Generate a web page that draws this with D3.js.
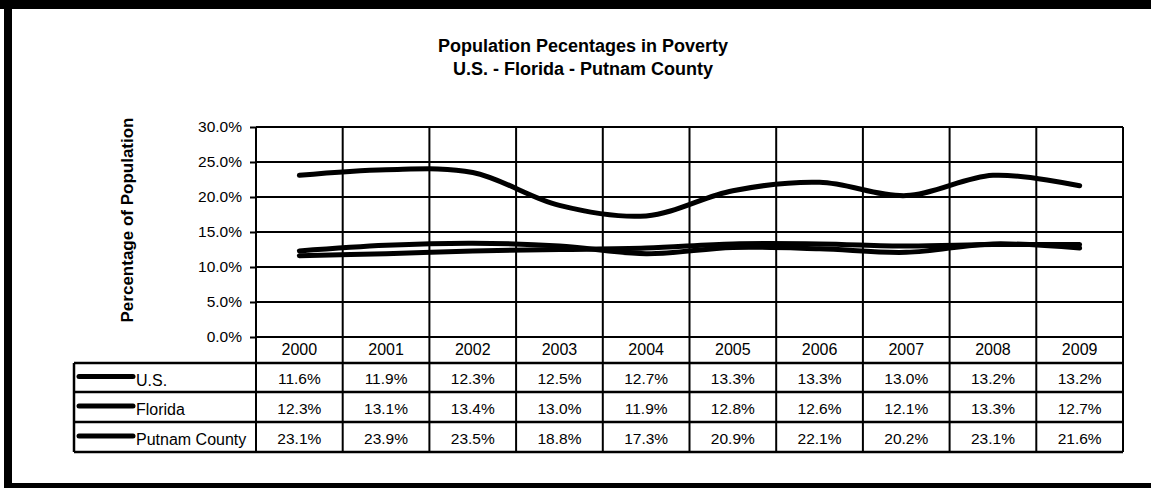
<!DOCTYPE html>
<html><head><meta charset="utf-8">
<script src="https://cdn.jsdelivr.net/npm/d3@7/dist/d3.min.js"></script>
<style>body{margin:0;background:#fff}svg{display:block;font-family:"Liberation Sans",Arial,sans-serif}</style>
</head><body><svg id="c" width="1151" height="488"></svg>
<script>
const years = ["2000","2001","2002","2003","2004","2005","2006","2007","2008","2009"];
const seriesNames = ["U.S.","Florida","Putnam County"];
const usValues = [11.6,11.9,12.3,12.5,12.7,13.3,13.3,13.0,13.2,13.2];
const floridaValues = [12.3,13.1,13.4,13.0,11.9,12.8,12.6,12.1,13.3,12.7];
const putnamValues = [23.1,23.9,23.5,18.8,17.3,20.9,22.1,20.2,23.1,21.6];
const yTicks = [0,5,10,15,20,25,30];
const titleLines = ["Population Pecentages in Poverty","U.S. - Florida - Putnam County"];
const yLabel = "Percentage of Population";

const series = [usValues, floridaValues, putnamValues];
const svg = d3.select("#c");

// outer frame
svg.append("rect").attr("x",0).attr("y",0).attr("width",1151).attr("height",9).attr("fill","#000");
svg.append("rect").attr("x",4).attr("y",0).attr("width",8).attr("height",488).attr("fill","#000");
svg.append("rect").attr("x",4).attr("y",483).attr("width",1147).attr("height",5).attr("fill","#000");

// title
svg.append("text").attr("x",583).attr("y",52).attr("text-anchor","middle")
  .attr("font-size",18).attr("font-weight","bold").text(titleLines[0]);
svg.append("text").attr("x",583).attr("y",75).attr("text-anchor","middle")
  .attr("font-size",18).attr("font-weight","bold").text(titleLines[1]);

const x0 = 256, x1 = 1123, yTop = 127, yBot = 337;
const xBand = d3.scaleBand().domain(years).range([x0,x1]);
const y = d3.scaleLinear().domain([0,30]).range([yBot,yTop]);

// y label
svg.append("text").attr("transform",`translate(133,220) rotate(-90)`).attr("text-anchor","middle")
  .attr("font-size",17).attr("font-weight","bold").text(yLabel);

// gridlines horizontal
svg.append("g").selectAll("line").data(yTicks).join("line")
  .attr("x1",x0).attr("x2",x1).attr("y1",d=>y(d)).attr("y2",d=>y(d))
  .attr("stroke","#000").attr("stroke-width",2);

// y axis with ticks
const yAxis = d3.axisLeft(y).tickValues(yTicks).tickSize(6).tickPadding(8)
  .tickFormat(d=>d.toFixed(1)+"%");
const ga = svg.append("g").attr("transform",`translate(${x0},0)`).call(yAxis);
ga.select(".domain").remove();
ga.selectAll(".tick line").attr("stroke","#000").attr("stroke-width",2);
ga.selectAll(".tick text").attr("font-size",15.5).attr("fill","#000").attr("font-family","Liberation Sans, Arial, sans-serif");

// table geometry
const rowEdges = [337,363,392,422,452];
const legX0 = 74;

// vertical lines (plot + table)
const vEdges = years.map(d=>xBand(d)).concat([x1]);
svg.append("g").selectAll("line").data(vEdges).join("line")
  .attr("x1",d=>d).attr("x2",d=>d).attr("y1",yTop).attr("y2",rowEdges[4])
  .attr("stroke","#000").attr("stroke-width",2);

// horizontal table lines
svg.append("g").selectAll("line").data(rowEdges.slice(1)).join("line")
  .attr("x1",legX0).attr("x2",x1).attr("y1",d=>d).attr("y2",d=>d)
  .attr("stroke","#000").attr("stroke-width",2.5);
svg.append("line").attr("x1",legX0).attr("x2",legX0).attr("y1",rowEdges[1]).attr("y2",rowEdges[4])
  .attr("stroke","#000").attr("stroke-width",2.5);

// header years
svg.append("g").selectAll("text").data(years).join("text")
  .attr("x",d=>xBand(d)+xBand.bandwidth()/2).attr("y",355)
  .attr("text-anchor","middle").attr("font-size",16).text(d=>d);

// data rows
series.forEach((vals,i)=>{
  const cy = (rowEdges[i+1]+rowEdges[i+2])/2;
  svg.append("g").selectAll("text").data(vals).join("text")
    .attr("x",(d,j)=>xBand(years[j])+xBand.bandwidth()/2).attr("y",cy+6.5)
    .attr("text-anchor","middle").attr("font-size",15.5).text(d=>d.toFixed(1)+"%");
  svg.append("line").attr("x1",79).attr("x2",133).attr("y1",cy-1).attr("y2",cy-1)
    .attr("stroke","#000").attr("stroke-width",5).attr("stroke-linecap","round");
  svg.append("text").attr("x",136).attr("y",cy+8).attr("font-size",16).text(seriesNames[i]);
});

// lines
const line = d3.line().x((d,j)=>xBand(years[j])+xBand.bandwidth()/2).y(d=>y(d))
  .curve(d3.curveCatmullRom.alpha(0.5));
series.forEach(vals=>{
  svg.append("path").datum(vals).attr("d",line).attr("fill","none")
    .attr("stroke","#000").attr("stroke-width",5).attr("stroke-linecap","round");
});
</script></body></html>
